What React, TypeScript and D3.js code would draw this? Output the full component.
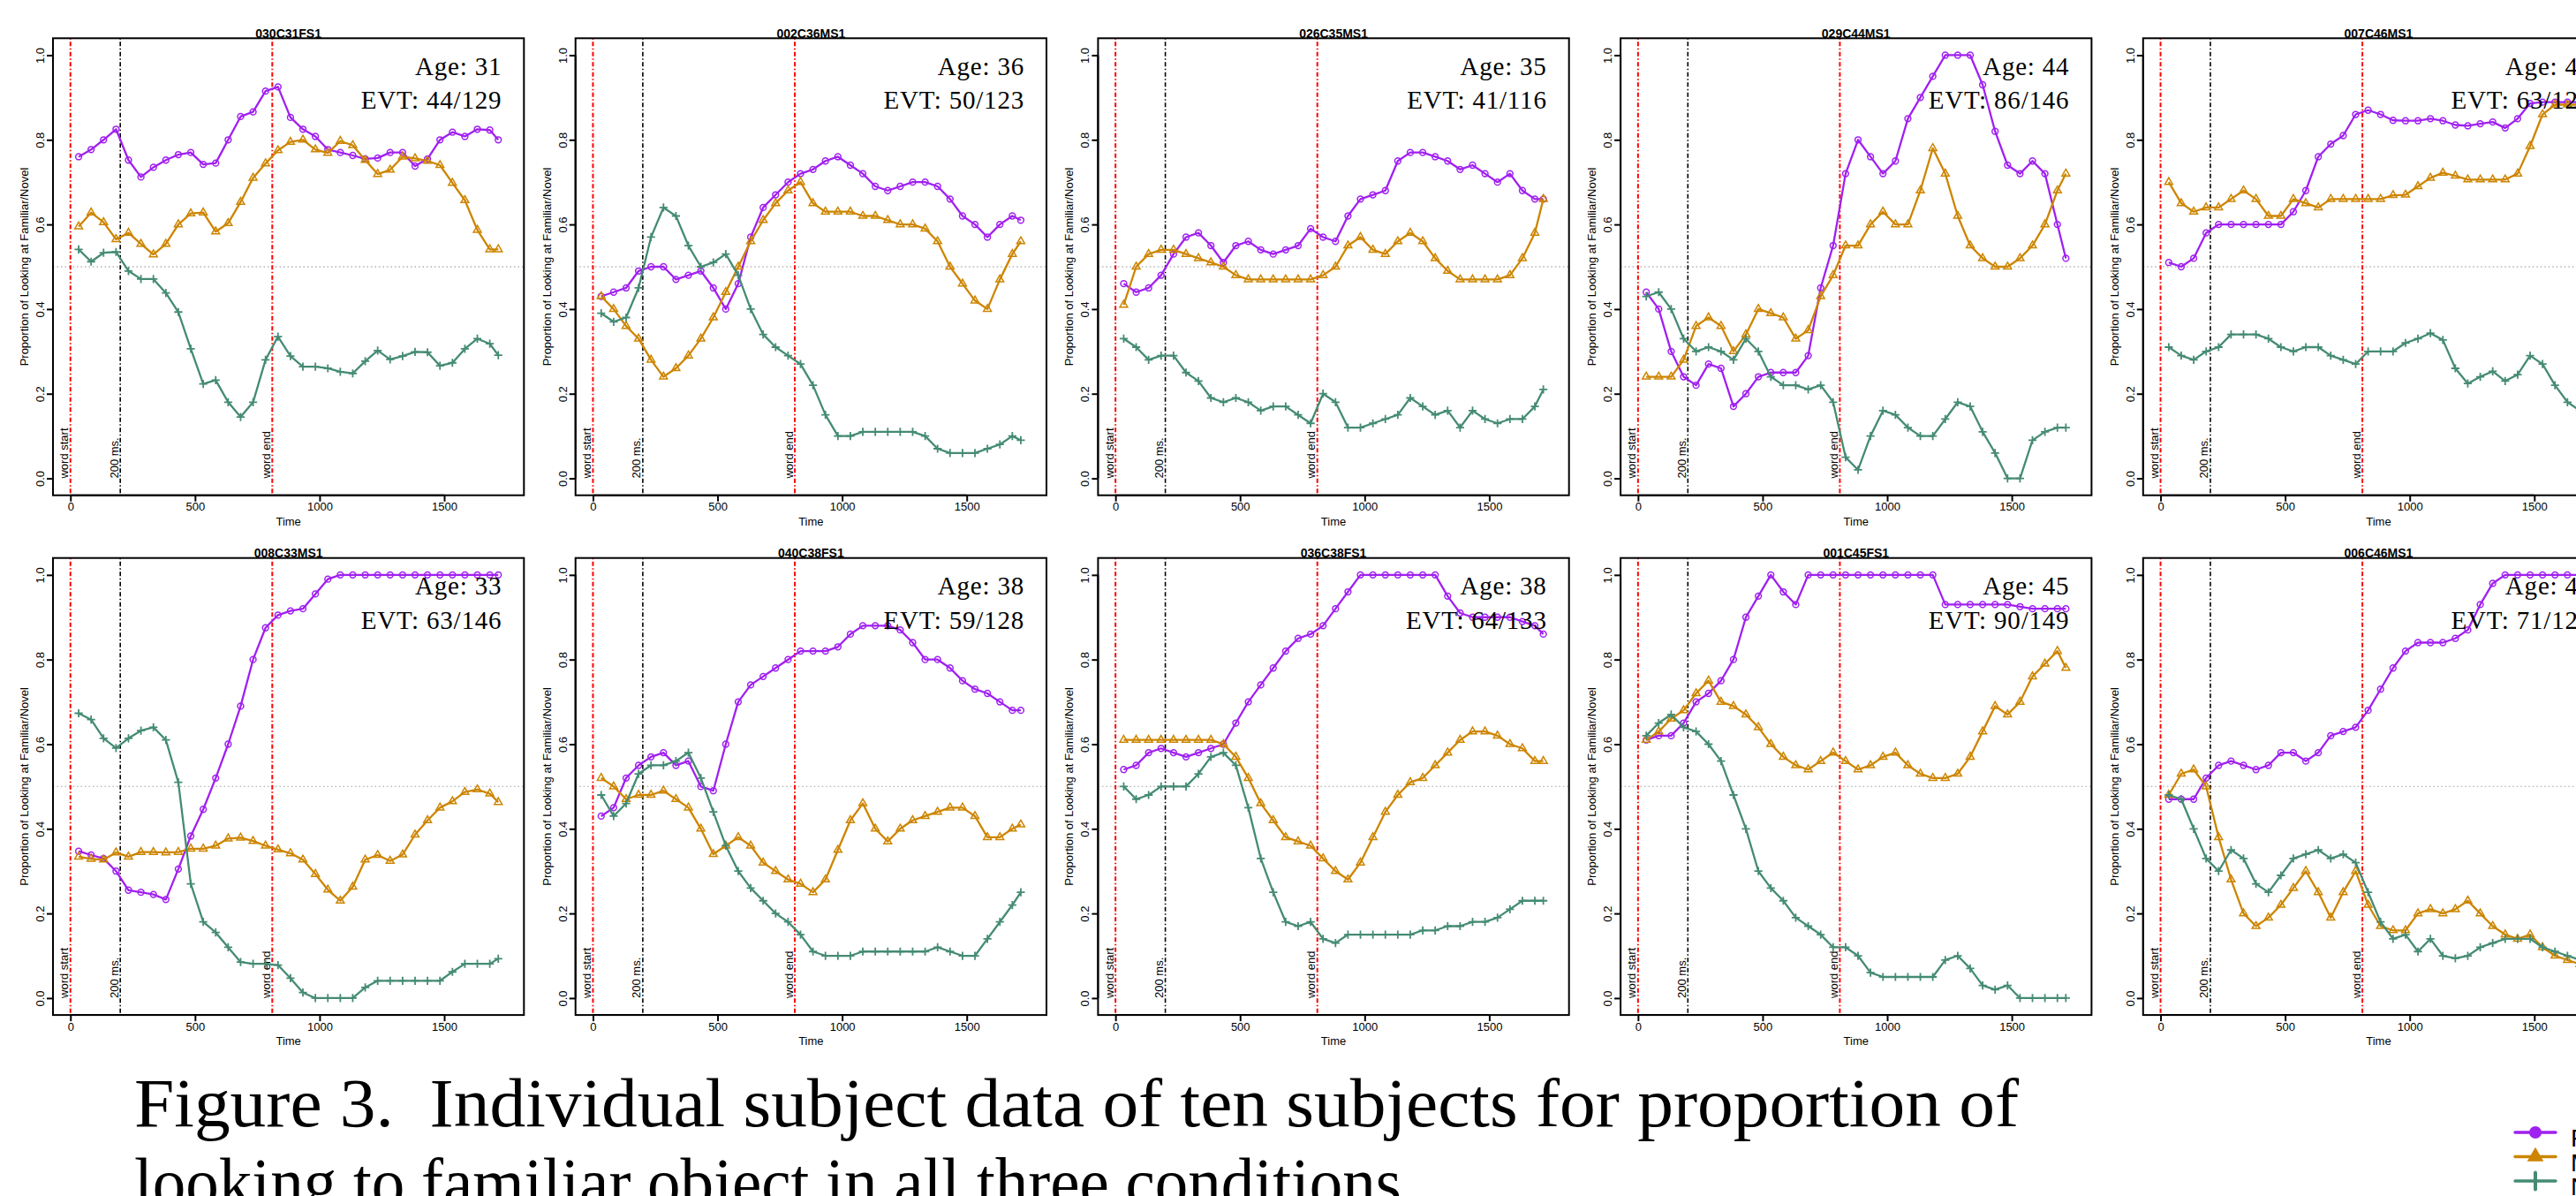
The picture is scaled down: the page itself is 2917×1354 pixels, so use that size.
import React, { useRef, useEffect } from "react";
import * as d3 from "d3";

const width = 2917;
const height = 1354;

// sample times (ms) shared by every series
const times = [
  33, 83, 133, 183, 233, 283, 333, 383, 433, 483, 533, 583, 633, 683, 733, 783, 833, 883,
  933, 983, 1033, 1083, 1133, 1183, 1233, 1283, 1333, 1383, 1433, 1483, 1533, 1583, 1633,
  1683, 1717,
];

const subjects = [
  "030C31FS1", "002C36MS1", "026C35MS1", "029C44MS1", "007C46MS1",
  "008C33MS1", "040C38FS1", "036C38FS1", "001C45FS1", "006C46MS1",
];
const ages = [
  "Age: 31", "Age: 36", "Age: 35", "Age: 44", "Age: 46",
  "Age: 33", "Age: 38", "Age: 38", "Age: 45", "Age: 46",
];
const evts = [
  "EVT: 44/129", "EVT: 50/123", "EVT: 41/116", "EVT: 86/146", "EVT: 63/127",
  "EVT: 63/146", "EVT: 59/128", "EVT: 64/133", "EVT: 90/149", "EVT: 71/125",
];

const seriesNames = ["Familiar", "Mispronounced", "Novel"];
const yTicks = [0, 0.2, 0.4, 0.6, 0.8, 1.0];
const xTicks = [0, 500, 1000, 1500];
const eventTimes = [0, 200, 810];
const eventLabels = ["word start", "200 ms.", "word end"];
const captionLines = [
  "Figure 3.  Individual subject data of ten subjects for proportion of",
  "looking to familiar object in all three conditions",
];

// panel 1
const fam1 = [0.76,0.777,0.8,0.825,0.752,0.712,0.735,0.752,0.765,0.77,0.742,0.745,0.8,0.855,0.866,0.915,0.925,0.853,0.825,0.808,0.777,0.77,0.763,0.755,0.757,0.77,0.77,0.738,0.755,0.8,0.818,0.808,0.825,0.823,0.8];
const mis1 = [0.595,0.628,0.605,0.565,0.58,0.554,0.529,0.554,0.6,0.626,0.628,0.583,0.603,0.653,0.71,0.744,0.775,0.795,0.8,0.777,0.769,0.797,0.787,0.752,0.719,0.729,0.76,0.756,0.75,0.74,0.698,0.657,0.587,0.541,0.541];
const nov1 = [0.541,0.512,0.533,0.535,0.49,0.471,0.471,0.438,0.393,0.306,0.223,0.232,0.18,0.145,0.18,0.28,0.335,0.289,0.264,0.264,0.26,0.252,0.248,0.277,0.302,0.281,0.289,0.299,0.298,0.266,0.273,0.306,0.33,0.318,0.291];
// panel 2
const fam2 = [0.43,0.44,0.45,0.49,0.5,0.5,0.47,0.48,0.49,0.45,0.4,0.46,0.57,0.64,0.67,0.7,0.72,0.73,0.75,0.76,0.74,0.72,0.69,0.68,0.69,0.7,0.7,0.69,0.66,0.62,0.6,0.57,0.6,0.62,0.61];
const mis2 = [0.43,0.4,0.36,0.33,0.28,0.24,0.26,0.29,0.33,0.38,0.44,0.5,0.56,0.61,0.65,0.68,0.7,0.65,0.63,0.63,0.63,0.62,0.62,0.61,0.6,0.6,0.59,0.56,0.5,0.46,0.42,0.4,0.47,0.53,0.56];
const nov2 = [0.39,0.37,0.38,0.45,0.57,0.64,0.62,0.55,0.5,0.51,0.53,0.48,0.4,0.34,0.31,0.29,0.27,0.22,0.15,0.1,0.1,0.11,0.11,0.11,0.11,0.11,0.1,0.07,0.06,0.06,0.06,0.07,0.08,0.1,0.09];
// panel 3
const fam3 = [0.46,0.44,0.45,0.48,0.53,0.57,0.58,0.55,0.51,0.55,0.56,0.54,0.53,0.54,0.55,0.59,0.57,0.56,0.62,0.66,0.67,0.68,0.75,0.77,0.77,0.76,0.75,0.73,0.74,0.72,0.7,0.72,0.68,0.66,0.66];
const mis3 = [0.41,0.5,0.53,0.54,0.54,0.53,0.52,0.51,0.5,0.48,0.47,0.47,0.47,0.47,0.47,0.47,0.48,0.5,0.55,0.57,0.54,0.53,0.56,0.58,0.56,0.52,0.49,0.47,0.47,0.47,0.47,0.48,0.52,0.58,0.66];
const nov3 = [0.33,0.31,0.28,0.29,0.29,0.25,0.23,0.19,0.18,0.19,0.18,0.16,0.17,0.17,0.15,0.13,0.2,0.18,0.12,0.12,0.13,0.14,0.15,0.19,0.17,0.15,0.16,0.12,0.16,0.14,0.13,0.14,0.14,0.17,0.21];
// panel 4
const fam4 = [0.44,0.4,0.3,0.24,0.22,0.27,0.26,0.17,0.2,0.24,0.25,0.25,0.25,0.29,0.45,0.55,0.72,0.8,0.76,0.72,0.75,0.85,0.9,0.95,1.0,1.0,1.0,0.93,0.82,0.74,0.72,0.75,0.72,0.6,0.52];
const mis4 = [0.24,0.24,0.24,0.28,0.36,0.38,0.36,0.3,0.34,0.4,0.39,0.38,0.33,0.35,0.43,0.48,0.55,0.55,0.6,0.63,0.6,0.6,0.68,0.78,0.72,0.62,0.55,0.52,0.5,0.5,0.52,0.55,0.6,0.68,0.72];
const nov4 = [0.43,0.44,0.4,0.33,0.3,0.31,0.3,0.28,0.33,0.3,0.24,0.22,0.22,0.21,0.22,0.18,0.05,0.02,0.1,0.16,0.15,0.12,0.1,0.1,0.14,0.18,0.17,0.11,0.06,0.0,0.0,0.09,0.11,0.12,0.12];
// panel 5
const fam5 = [0.51,0.5,0.52,0.58,0.6,0.6,0.6,0.6,0.6,0.6,0.63,0.68,0.76,0.79,0.81,0.86,0.87,0.86,0.846,0.845,0.845,0.85,0.845,0.835,0.833,0.838,0.842,0.828,0.85,0.886,0.889,0.889,0.889,0.889,0.889];
const mis5 = [0.7,0.65,0.63,0.64,0.64,0.66,0.68,0.66,0.62,0.62,0.66,0.65,0.64,0.66,0.66,0.66,0.66,0.66,0.669,0.67,0.69,0.71,0.722,0.715,0.706,0.706,0.706,0.706,0.72,0.785,0.86,0.883,0.883,0.883,0.883];
const nov5 = [0.31,0.29,0.28,0.3,0.31,0.34,0.34,0.34,0.33,0.31,0.3,0.31,0.31,0.29,0.28,0.27,0.3,0.3,0.3,0.32,0.33,0.343,0.327,0.26,0.224,0.24,0.253,0.23,0.245,0.29,0.27,0.22,0.18,0.16,0.15];
// panel 6
const fam6 = [0.347,0.338,0.33,0.3,0.255,0.25,0.245,0.233,0.305,0.383,0.446,0.52,0.6,0.69,0.8,0.875,0.905,0.915,0.92,0.955,0.99,1.0,1.0,1.0,1.0,1.0,1.0,1.0,1.0,1.0,1.0,1.0,1.0,1.0,1.0];
const mis6 = [0.334,0.329,0.327,0.344,0.334,0.345,0.345,0.344,0.345,0.353,0.353,0.36,0.377,0.379,0.371,0.36,0.351,0.342,0.327,0.293,0.256,0.23,0.263,0.327,0.338,0.324,0.339,0.386,0.42,0.45,0.465,0.487,0.493,0.483,0.463];
const nov6 = [0.673,0.658,0.614,0.591,0.614,0.632,0.64,0.61,0.51,0.27,0.18,0.155,0.12,0.085,0.081,0.081,0.078,0.047,0.013,0.0,0.0,0.0,0.0,0.025,0.041,0.041,0.041,0.041,0.041,0.041,0.062,0.081,0.081,0.081,0.093];
// panel 7
const fam7 = [0.43,0.45,0.52,0.55,0.57,0.58,0.55,0.56,0.5,0.49,0.6,0.7,0.74,0.76,0.78,0.8,0.82,0.82,0.82,0.83,0.86,0.88,0.88,0.88,0.87,0.84,0.8,0.8,0.78,0.75,0.73,0.72,0.7,0.68,0.68];
const mis7 = [0.52,0.5,0.47,0.48,0.48,0.49,0.47,0.45,0.4,0.34,0.36,0.38,0.36,0.32,0.3,0.28,0.27,0.25,0.28,0.35,0.42,0.46,0.4,0.37,0.4,0.42,0.43,0.44,0.45,0.45,0.43,0.38,0.38,0.4,0.41];
const nov7 = [0.48,0.43,0.46,0.53,0.55,0.55,0.56,0.58,0.52,0.44,0.36,0.3,0.26,0.23,0.2,0.18,0.15,0.11,0.1,0.1,0.1,0.11,0.11,0.11,0.11,0.11,0.11,0.12,0.11,0.1,0.1,0.14,0.18,0.22,0.25];
// panel 8
const fam8 = [0.54,0.55,0.58,0.59,0.58,0.57,0.58,0.59,0.6,0.65,0.7,0.74,0.78,0.82,0.85,0.86,0.88,0.92,0.96,1.0,1.0,1.0,1.0,1.0,1.0,1.0,0.95,0.91,0.9,0.9,0.9,0.9,0.89,0.88,0.86];
const mis8 = [0.61,0.61,0.61,0.61,0.61,0.61,0.61,0.61,0.6,0.57,0.52,0.46,0.42,0.38,0.37,0.36,0.33,0.3,0.28,0.32,0.38,0.44,0.48,0.51,0.52,0.55,0.58,0.61,0.63,0.63,0.62,0.6,0.59,0.56,0.56];
const nov8 = [0.5,0.47,0.48,0.5,0.5,0.5,0.53,0.57,0.58,0.55,0.45,0.33,0.25,0.18,0.17,0.18,0.14,0.13,0.15,0.15,0.15,0.15,0.15,0.15,0.16,0.16,0.17,0.17,0.18,0.18,0.19,0.21,0.23,0.23,0.23];
// panel 9
const fam9 = [0.61,0.62,0.62,0.65,0.7,0.72,0.75,0.8,0.9,0.95,1.0,0.96,0.93,1.0,1.0,1.0,1.0,1.0,1.0,1.0,1.0,1.0,1.0,1.0,0.93,0.93,0.93,0.93,0.93,0.93,0.925,0.92,0.92,0.92,0.92];
const mis9 = [0.61,0.63,0.66,0.68,0.72,0.75,0.7,0.69,0.67,0.64,0.6,0.57,0.55,0.54,0.56,0.58,0.56,0.54,0.55,0.57,0.58,0.55,0.53,0.52,0.52,0.53,0.57,0.63,0.69,0.67,0.7,0.76,0.79,0.82,0.78];
const nov9 = [0.62,0.65,0.67,0.64,0.63,0.6,0.56,0.48,0.4,0.3,0.26,0.23,0.19,0.17,0.15,0.12,0.12,0.1,0.06,0.05,0.05,0.05,0.05,0.05,0.09,0.1,0.07,0.03,0.02,0.03,0.0,0.0,0.0,0.0,0.0];
// panel 10
const fam10 = [0.47,0.47,0.47,0.52,0.55,0.56,0.55,0.54,0.55,0.58,0.58,0.56,0.58,0.62,0.63,0.64,0.68,0.73,0.78,0.82,0.84,0.84,0.84,0.85,0.87,0.93,0.98,1.0,1.0,1.0,1.0,1.0,1.0,1.0,1.0];
const mis10 = [0.48,0.53,0.54,0.5,0.38,0.28,0.2,0.17,0.19,0.22,0.26,0.3,0.25,0.19,0.25,0.3,0.22,0.17,0.16,0.16,0.2,0.21,0.2,0.21,0.23,0.2,0.17,0.15,0.14,0.15,0.12,0.1,0.09,0.08,0.07];
const nov10 = [0.48,0.47,0.4,0.33,0.3,0.35,0.33,0.27,0.25,0.29,0.33,0.34,0.35,0.33,0.34,0.32,0.25,0.18,0.14,0.15,0.11,0.14,0.1,0.094,0.1,0.12,0.13,0.14,0.14,0.14,0.12,0.11,0.1,0.09,0.09];

const panelSeries = [
  [fam1, mis1, nov1], [fam2, mis2, nov2], [fam3, mis3, nov3], [fam4, mis4, nov4], [fam5, mis5, nov5],
  [fam6, mis6, nov6], [fam7, mis7, nov7], [fam8, mis8, nov8], [fam9, mis9, nov9], [fam10, mis10, nov10],
];

const colors = ["#a020f0", "#cd8500", "#458b74"];
const sans = "'Liberation Sans', Arial, Helvetica, sans-serif";
const serif = "'Liberation Serif', 'Times New Roman', serif";

const App = () => {
  const svgRef = useRef<SVGSVGElement>(null);

  useEffect(() => {
    const svg = d3.select(svgRef.current);
    svg.selectAll("*").remove();
    svg.append("rect").attr("width", width).attr("height", height).attr("fill", "#fff");
    const defs = svg.append("defs");

    const triangle = d3.symbol(d3.symbolTriangle, 34)();
    const plus = "M-4.6,0H4.6M0,-4.6V4.6";

    panelSeries.forEach((series, i) => {
      const col = i % 5;
      const row = Math.floor(i / 5);
      const left = 60 + col * 591.7;
      const top = row === 0 ? 43.3 : 631.7;
      const pw = 533.3;
      const ph = 517.4;

      const x = d3.scaleLinear().domain([-70, 1820]).range([left, left + pw]);
      const y = d3.scaleLinear().domain([-0.04, 1.04]).range([top + ph, top]);

      defs.append("clipPath").attr("id", `clip-${i}`)
        .append("rect").attr("x", left).attr("y", top).attr("width", pw).attr("height", ph);

      const g = svg.append("g").attr("font-family", sans);
      const plot = g.append("g").attr("clip-path", `url(#clip-${i})`);

      // chance line
      plot.append("line")
        .attr("x1", left).attr("x2", left + pw)
        .attr("y1", y(0.5)).attr("y2", y(0.5))
        .attr("stroke", "#b4b4b4").attr("stroke-width", 1.3)
        .attr("stroke-dasharray", "1.5,3");

      // event markers
      eventTimes.forEach((t, k) => {
        plot.append("line")
          .attr("x1", x(t)).attr("x2", x(t))
          .attr("y1", top).attr("y2", top + ph)
          .attr("stroke", k === 1 ? "#000" : "#ff0000")
          .attr("stroke-width", k === 1 ? 1.6 : 2)
          .attr("stroke-dasharray", "1.5,2.5,5,2.5");
        plot.append("text")
          .attr("transform", `translate(${x(t) - 2.5},${y(0)}) rotate(-90)`)
          .attr("font-size", 13)
          .attr("fill", "#000")
          .text(eventLabels[k]);
      });

      const line = d3.line<number>()
        .x((_, j) => x(times[j]))
        .y((d) => y(d));

      series.forEach((vals, s) => {
        plot.append("path")
          .datum(vals)
          .attr("fill", "none")
          .attr("stroke", colors[s])
          .attr("stroke-width", 2.3)
          .attr("stroke-linejoin", "round")
          .attr("d", line);

        const pts = plot.append("g")
          .selectAll("g")
          .data(vals)
          .join("g")
          .attr("transform", (d, j) => `translate(${x(times[j])},${y(d)})`);
        if (s === 0) {
          pts.append("circle").attr("r", 3.4)
            .attr("fill", "none").attr("stroke", colors[s]).attr("stroke-width", 1.5);
        } else if (s === 1) {
          pts.append("path").attr("d", triangle)
            .attr("fill", "none").attr("stroke", colors[s]).attr("stroke-width", 1.5);
        } else {
          pts.append("path").attr("d", plus)
            .attr("fill", "none").attr("stroke", colors[s]).attr("stroke-width", 1.8);
        }
      });

      // box
      g.append("rect")
        .attr("x", left).attr("y", top).attr("width", pw).attr("height", ph)
        .attr("fill", "none").attr("stroke", "#000").attr("stroke-width", 2);

      // left axis
      const yAxis = g.append("g")
        .attr("transform", `translate(${left},0)`)
        .call(d3.axisLeft(y).tickValues(yTicks).tickSize(7).tickFormat(d3.format(".1f")));
      yAxis.select(".domain").remove();
      yAxis.attr("font-family", sans).attr("font-size", 13);
      yAxis.selectAll("line").attr("stroke-width", 2);
      yAxis.selectAll("text")
        .attr("x", null).attr("dy", null)
        .attr("y", -10)
        .attr("transform", "rotate(-90)")
        .attr("text-anchor", "middle")
        .attr("fill", "#000");
      yAxis.append("line")
        .attr("x1", 0).attr("x2", 0).attr("y1", y(0)).attr("y2", y(1))
        .attr("stroke", "#000").attr("stroke-width", 2);

      // bottom axis
      const xAxis = g.append("g")
        .attr("transform", `translate(0,${top + ph})`)
        .call(d3.axisBottom(x).tickValues(xTicks).tickSize(7).tickPadding(1.3).tickFormat(d3.format("d")));
      xAxis.select(".domain").remove();
      xAxis.attr("font-family", sans).attr("font-size", 13);
      xAxis.selectAll("line").attr("stroke-width", 2);
      xAxis.selectAll("text").attr("fill", "#000");
      xAxis.append("line")
        .attr("x1", x(0)).attr("x2", x(1500)).attr("y1", 0).attr("y2", 0)
        .attr("stroke", "#000").attr("stroke-width", 2);

      // labels
      g.append("text")
        .attr("x", left + pw / 2).attr("y", top + ph + 34)
        .attr("text-anchor", "middle").attr("font-size", 13)
        .text("Time");
      g.append("text")
        .attr("transform", `translate(${left - 28},${top + ph / 2}) rotate(-90)`)
        .attr("text-anchor", "middle").attr("font-size", 13)
        .text("Proportion of Looking at Familiar/Novel");
      g.append("text")
        .attr("x", left + pw / 2).attr("y", top - 0.8)
        .attr("text-anchor", "middle").attr("font-size", 14).attr("font-weight", "bold")
        .text(subjects[i]);
      g.append("text")
        .attr("x", left + pw - 25).attr("y", top + 41.7)
        .attr("text-anchor", "end").attr("font-family", serif)
        .attr("font-size", 29).attr("letter-spacing", 0.8)
        .text(ages[i]);
      g.append("text")
        .attr("x", left + pw - 25).attr("y", top + 80)
        .attr("text-anchor", "end").attr("font-family", serif)
        .attr("font-size", 29).attr("letter-spacing", 0.8)
        .text(evts[i]);
    });

    // caption
    const cap = svg.append("g").attr("font-family", serif).attr("font-size", 78).attr("fill", "#000");
    cap.append("text")
      .attr("x", 152).attr("y", 1275)
      .attr("textLength", 2134).attr("lengthAdjust", "spacingAndGlyphs")
      .style("white-space", "pre")
      .text(captionLines[0]);
    cap.append("text")
      .attr("x", 152).attr("y", 1365)
      .attr("textLength", 1435).attr("lengthAdjust", "spacingAndGlyphs")
      .text(captionLines[1]);

    // legend
    const leg = svg.append("g").attr("font-family", sans).attr("font-size", 28);
    seriesNames.forEach((name, s) => {
      const ly = 1282 + s * 27.5;
      const row = leg.append("g").attr("transform", `translate(2871,${ly})`);
      row.append("line").attr("x1", -23).attr("x2", 23)
        .attr("stroke", colors[s]).attr("stroke-width", 3.4).attr("stroke-linecap", "round");
      if (s === 0) {
        row.append("circle").attr("r", 7).attr("fill", colors[s]);
      } else if (s === 1) {
        row.append("path").attr("d", d3.symbol(d3.symbolTriangle, 150)()).attr("fill", colors[s]);
      } else {
        row.append("line").attr("y1", -9.5).attr("y2", 9.5)
          .attr("stroke", colors[s]).attr("stroke-width", 4).attr("stroke-linecap", "round");
      }
      leg.append("text").attr("x", 2911).attr("y", ly + 16).text(name);
    });
  }, []);

  return (
    <div style={{ position: "absolute", left: 0, top: 0 }}>
      <svg ref={svgRef} width={width} height={height} style={{ display: "block" }}></svg>
    </div>
  );
};

export default App;
